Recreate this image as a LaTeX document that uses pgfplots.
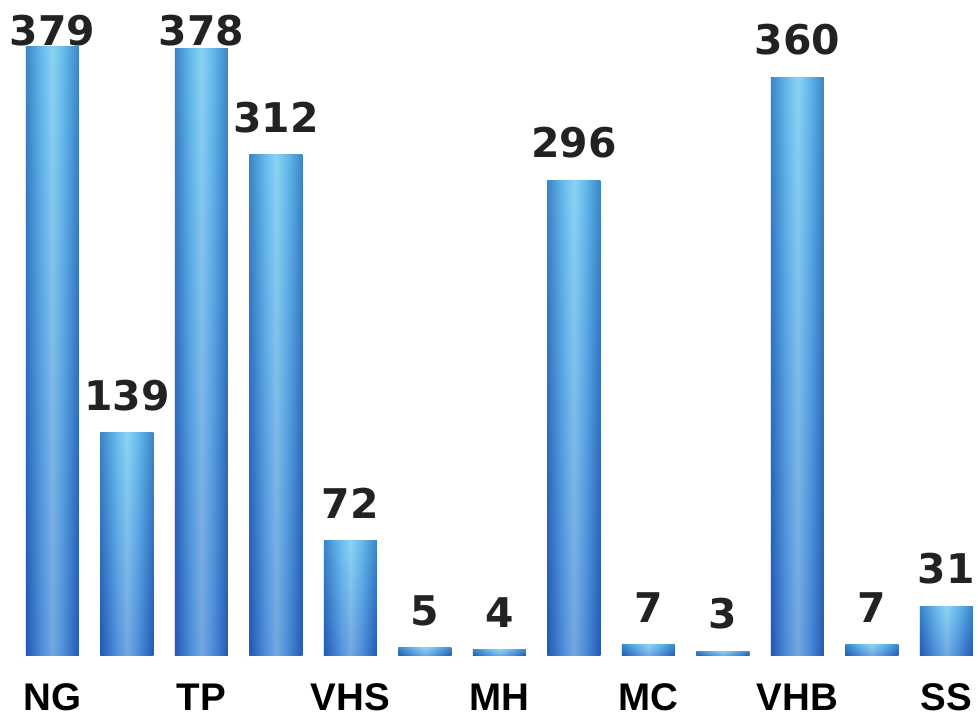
\documentclass[border=0pt]{standalone}
\usepackage{pgfplots}
\pgfplotsset{compat=1.18}
\usepackage{fontspec}
\setmainfont{DejaVu Sans}
\newfontfamily\tickfont{Liberation Sans}
\definecolor{topc}{HTML}{58B2E6}
\definecolor{botc}{HTML}{2A58C0}
\definecolor{edgeC}{HTML}{1E5AAA}
\definecolor{midC}{HTML}{74C6F4}
\definecolor{cenC}{HTML}{C0F4FF}
\definecolor{lblC}{HTML}{222222}
\pgfdeclarehorizontalshading{cyl}{100bp}{color(0bp)=(edgeC); color(25bp)=(edgeC); color(40bp)=(midC); color(50bp)=(cenC); color(60bp)=(midC); color(75bp)=(edgeC); color(100bp)=(edgeC)}
\pgfplotsset{
  cylbase/.style={ybar, bar width=26.5pt, bar shift=0pt, draw=none, top color=topc, bottom color=botc},
  cylover/.style={ybar, bar width=26.5pt, bar shift=0pt, draw=none, shade, shading=cyl, shading angle=0, fill opacity=0.5,
    nodes near coords={\pgfmathprintnumber[assume math mode=true]{\pgfplotspointmeta}},
    every node near coord/.append style={anchor=south, inner sep=0pt, yshift=#1pt, font=\bfseries\fontsize{20.5}{22}\selectfont, text=lblC, fill opacity=1, text opacity=1}},
}
\newcommand\cyl[3]{%
  \addplot[cylbase] coordinates {(#1,#2)};
  \addplot[cylover=#3] coordinates {(#1,#2)};
}
\begin{document}
\begin{tikzpicture}
\begin{axis}[
  scale only axis, width=489pt, height=328.5pt,
  xmin=-0.703, xmax=12.398, ymin=0, ymax=408.07,
  axis line style={draw=none}, ymajorticks=false,
  xtick={0,2,4,6,8,10,12}, xticklabels={NG,TP,VHS,MH,MC,VHB,SS},
  major tick length=0pt,
  xticklabel style={font=\tickfont\bfseries\fontsize{19.3}{20}\selectfont, anchor=base, inner sep=3pt, yshift=-27.5pt, text=black},
  clip=false,
]
\cyl{0}{379}{0}
\cyl{1}{139}{10.75}
\cyl{2}{378}{1.1}
\cyl{3}{312}{10.75}
\cyl{4}{72}{10.75}
\cyl{5}{5}{10.75}
\cyl{6}{4}{10.75}
\cyl{7}{296}{10.75}
\cyl{8}{7}{10.75}
\cyl{9}{3}{10.75}
\cyl{10}{360}{10.75}
\cyl{11}{7}{10.75}
\cyl{12}{31}{10.75}
\end{axis}
\end{tikzpicture}
\end{document}
